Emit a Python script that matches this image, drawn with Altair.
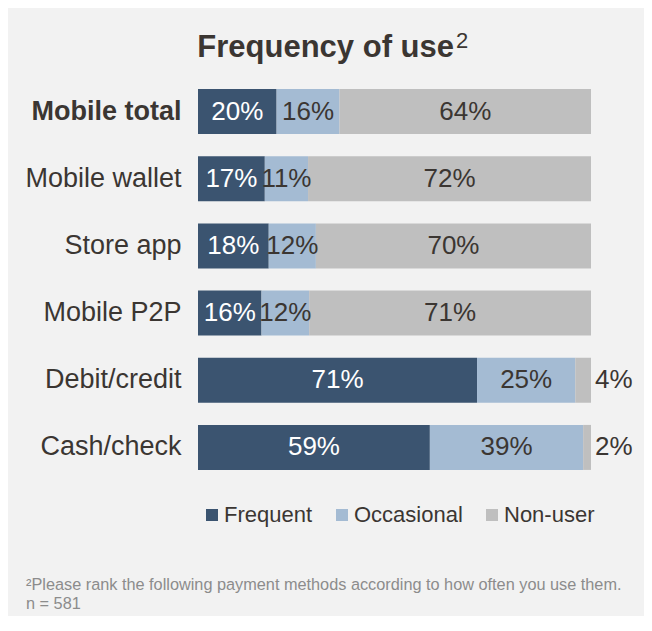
import altair as alt
import pandas as pd

categories = ["Mobile total", "Mobile wallet", "Store app", "Mobile P2P", "Debit/credit", "Cash/check"]
series = ["Frequent", "Occasional", "Non-user"]
frequent = [20, 17, 18, 16, 71, 59]
occasional = [16, 11, 12, 12, 25, 39]
nonuser = [64, 72, 70, 71, 4, 2]

footnotes = ["\u00b2Please rank the following payment methods according to how often you use them.", "n = 581"]

colors = ["#3b5470", "#a4bbd3", "#bfbfbf"]
TEXT = "#3b3632"
FONT = "Liberation Sans"

rows = []
for i, c in enumerate(categories):
    for k, (s, vals) in enumerate(zip(series, [frequent, occasional, nonuser])):
        rows.append({"category": c, "series": s, "order": k, "value": vals[i]})
df = pd.DataFrame(rows)

y_enc = alt.Y(
    "category:N",
    sort=categories,
    scale=alt.Scale(paddingInner=0.33, paddingOuter=0.165),
    axis=alt.Axis(
        title=None, domain=False, ticks=False, tickSize=0, labelPadding=17, grid=False,
        labelFontSize=27, labelColor=TEXT, labelFont=FONT,
        labelFontWeight={"expr": "datum.value == 'Mobile total' ? 'bold' : 'normal'"},
    ),
)
x_scale = alt.Scale(domain=[0, 1], nice=False)

base = alt.Chart(df)

bars = base.mark_bar(size=45).encode(
    x=alt.X("value:Q", stack="normalize", scale=x_scale, axis=None),
    y=y_enc,
    color=alt.Color(
        "series:N",
        scale=alt.Scale(domain=series, range=colors),
        legend=alt.Legend(
            title=None, orient="none", direction="horizontal", legendX=3, legendY=426,
            symbolType="square", symbolSize=144, symbolStrokeWidth=0, symbolOpacity=1,
            labelFontSize=22, labelColor=TEXT, labelFont=FONT, labelOffset=1,
            columnPadding=18, padding=0,
        ),
    ),
    order=alt.Order("order:Q"),
)

stacked = base.transform_stack(
    stack="value", groupby=["category"], as_=["v0", "v1"], offset="normalize",
    sort=[alt.SortField("order", order="ascending")],
).transform_calculate(mid="(datum.v0 + datum.v1) / 2", label="datum.value + '%'")

inside = stacked.transform_filter("!(datum.series == 'Non-user' && datum.value < 10)").mark_text(
    fontSize=26, font=FONT, baseline="middle", align="center"
).encode(
    x=alt.X("mid:Q", scale=x_scale, axis=None),
    y=alt.Y("category:N", sort=categories),
    text=alt.Text("label:N"),
    color=alt.condition("datum.series == 'Frequent'", alt.value("#ffffff"), alt.value(TEXT)),
)

outside = stacked.transform_filter("datum.series == 'Non-user' && datum.value < 10").mark_text(
    fontSize=26, font=FONT, baseline="middle", align="left", dx=4, color=TEXT
).encode(
    x=alt.X("v1:Q", scale=x_scale, axis=None),
    y=alt.Y("category:N", sort=categories),
    text=alt.Text("label:N"),
)

title = alt.Chart(pd.DataFrame({"t": ["Frequency of use"]})).mark_text(
    fontSize=31, fontWeight="bold", font=FONT, align="right", baseline="alphabetic", color=TEXT
).encode(text="t:N", x=alt.value(256), y=alt.value(-21.4))

sup = alt.Chart(pd.DataFrame({"t": ["2"]})).mark_text(
    fontSize=22, font=FONT, align="left", baseline="alphabetic", color=TEXT
).encode(text="t:N", x=alt.value(258), y=alt.value(-30.4))

foot1 = alt.Chart(pd.DataFrame({"t": [footnotes[0]]})).mark_text(
    fontSize=16.3, font=FONT, align="left", baseline="alphabetic", color="#8c8c8c"
).encode(text="t:N", x=alt.value(-172), y=alt.value(512))

foot2 = alt.Chart(pd.DataFrame({"t": [footnotes[1]]})).mark_text(
    fontSize=16.3, font=FONT, align="left", baseline="alphabetic", color="#8c8c8c"
).encode(text="t:N", x=alt.value(-172), y=alt.value(531))

chart = alt.layer(bars, inside, outside, title, sup, foot1, foot2).properties(
    width=393, height=403,
    autosize=alt.AutoSizeParams(type="none"),
    padding={"left": 190, "right": 53, "top": 70, "bottom": 135},
    background="#f2f2f2",
    view=alt.ViewBackground(strokeWidth=0, stroke="transparent"),
).configure_view(strokeWidth=0, stroke="transparent").configure_axis(grid=False).configure(font=FONT)

chart.save("out.html", embed_options={"renderer": "svg", "actions": False})
